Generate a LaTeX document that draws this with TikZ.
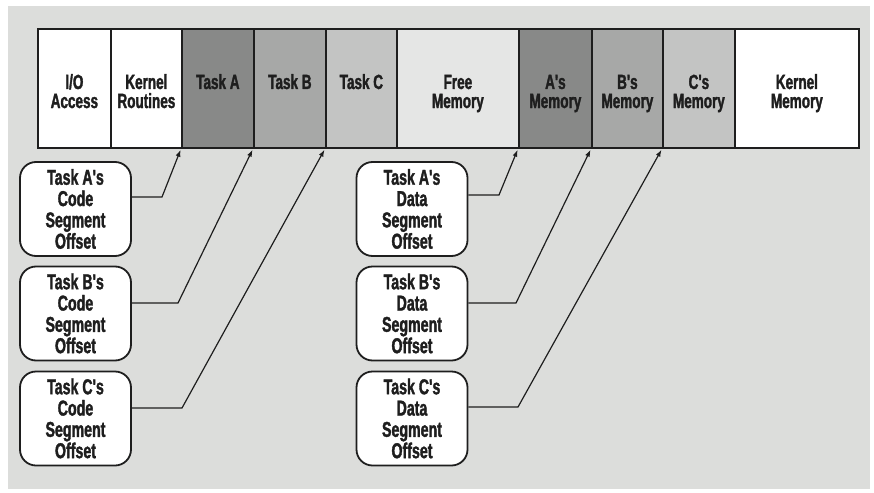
\documentclass[tikz,border=0pt]{standalone}
\usepackage{fontspec}
\newfontfamily\lblfont[FakeStretch=0.66, BoldFeatures={FakeBold=1.6}]{Liberation Sans}
\usetikzlibrary{arrows.meta}
\definecolor{ink}{HTML}{1E1E1E}
\definecolor{panel}{HTML}{DCDDDB}
\definecolor{shadeA}{HTML}{888988}
\definecolor{shadeB}{HTML}{A7A8A7}
\definecolor{shadeC}{HTML}{C3C4C3}
\definecolor{freemem}{HTML}{E5E6E5}
\begin{document}
\begin{tikzpicture}[x=1pt,y=-1pt,
  cell/.style={draw=ink, line width=1.8pt, minimum height=119pt, inner sep=0pt, anchor=north west},
  celltext/.style={font=\lblfont\bfseries\fontsize{20.5}{19}\selectfont, text=ink, align=center, anchor=base, inner sep=0pt},
  seg/.style={draw=ink, line width=1.8pt, fill=white, rounded corners=16pt, minimum width=111pt, minimum height=94pt,
    align=center, inner sep=0pt, text=ink, font=\lblfont\bfseries\fontsize{21.5}{21.3}\selectfont},
  conn/.style={draw=ink, line width=1.2pt, shorten >=1pt, -{Latex[length=7pt,width=5pt]}}]
% page and panel
\useasboundingbox (0,0) rectangle (874,492);
\fill[white] (0,0) rectangle (874,492);
\fill[panel] (8,6) rectangle (870,489);

% memory map bar
\node[cell, fill=white,   minimum width=73pt]  (io) at (37,28)  {};
\node[cell, fill=white,   minimum width=71pt]  (kr) at (110,28) {};
\node[cell, fill=shadeA,  minimum width=72pt]  (ta) at (181,28) {};
\node[cell, fill=shadeB,  minimum width=72pt]  (tb) at (253,28) {};
\node[cell, fill=shadeC,  minimum width=71pt]  (tc) at (325,28) {};
\node[cell, fill=freemem, minimum width=122pt] (fm) at (396,28) {};
\node[cell, fill=shadeA,  minimum width=73pt]  (am) at (518,28) {};
\node[cell, fill=shadeB,  minimum width=71pt]  (bm) at (591,28) {};
\node[cell, fill=shadeC,  minimum width=72pt]  (cm) at (662,28) {};
\node[cell, fill=white,   minimum width=124pt] (km) at (734,28) {};

% cell labels (base anchor sits on the last line)
\node[celltext] (ioT) at (io.north |- 0,108) {I/O\\Access};
\node[celltext] (krT) at (kr.north |- 0,108) {Kernel\\Routines};
\node[celltext] (taT) at (ta.north |- 0,89)  {Task A};
\node[celltext] (tbT) at (tb.north |- 0,89)  {Task B};
\node[celltext] (tcT) at (tc.north |- 0,89)  {Task C};
\node[celltext] (fmT) at (fm.north |- 0,108) {Free\\Memory};
\node[celltext] (amT) at (am.north |- 0,108) {A's\\Memory};
\node[celltext] (bmT) at (bm.north |- 0,108) {B's\\Memory};
\node[celltext] (cmT) at (cm.north |- 0,108) {C's\\Memory};
\node[celltext] (kmT) at (km.north |- 0,108) {Kernel\\Memory};

% segment offset boxes
\node[seg] (ca) at (75.5,209)   {Task A's\\Code\\Segment\\Offset};
\node[seg] (cb) at (75.5,313.5) {Task B's\\Code\\Segment\\Offset};
\node[seg] (cc) at (75.5,418.5) {Task C's\\Code\\Segment\\Offset};
\node[seg] (da) at (412,209)    {Task A's\\Data\\Segment\\Offset};
\node[seg] (db) at (412,313.5)  {Task B's\\Data\\Segment\\Offset};
\node[seg] (dc) at (412,418.5)  {Task C's\\Data\\Segment\\Offset};

% bend points of the pointers
\coordinate (caB) at (162,197);
\coordinate (cbB) at (178,303);
\coordinate (ccB) at (182,408);
\coordinate (daB) at (499,195);
\coordinate (dbB) at (516,303);
\coordinate (dcB) at (518,407);

% pointers to segment starts
\draw[conn] (ca.east |- caB) -- (caB) -- (ta.south west);
\draw[conn] (cb.east |- cbB) -- (cbB) -- (tb.south west);
\draw[conn] (cc.east |- ccB) -- (ccB) -- (tc.south west);
\draw[conn] (da.east |- daB) -- (daB) -- (am.south west);
\draw[conn] (db.east |- dbB) -- (dbB) -- (bm.south west);
\draw[conn] (dc.east |- dcB) -- (dcB) -- (cm.south west);
\end{tikzpicture}
\end{document}
